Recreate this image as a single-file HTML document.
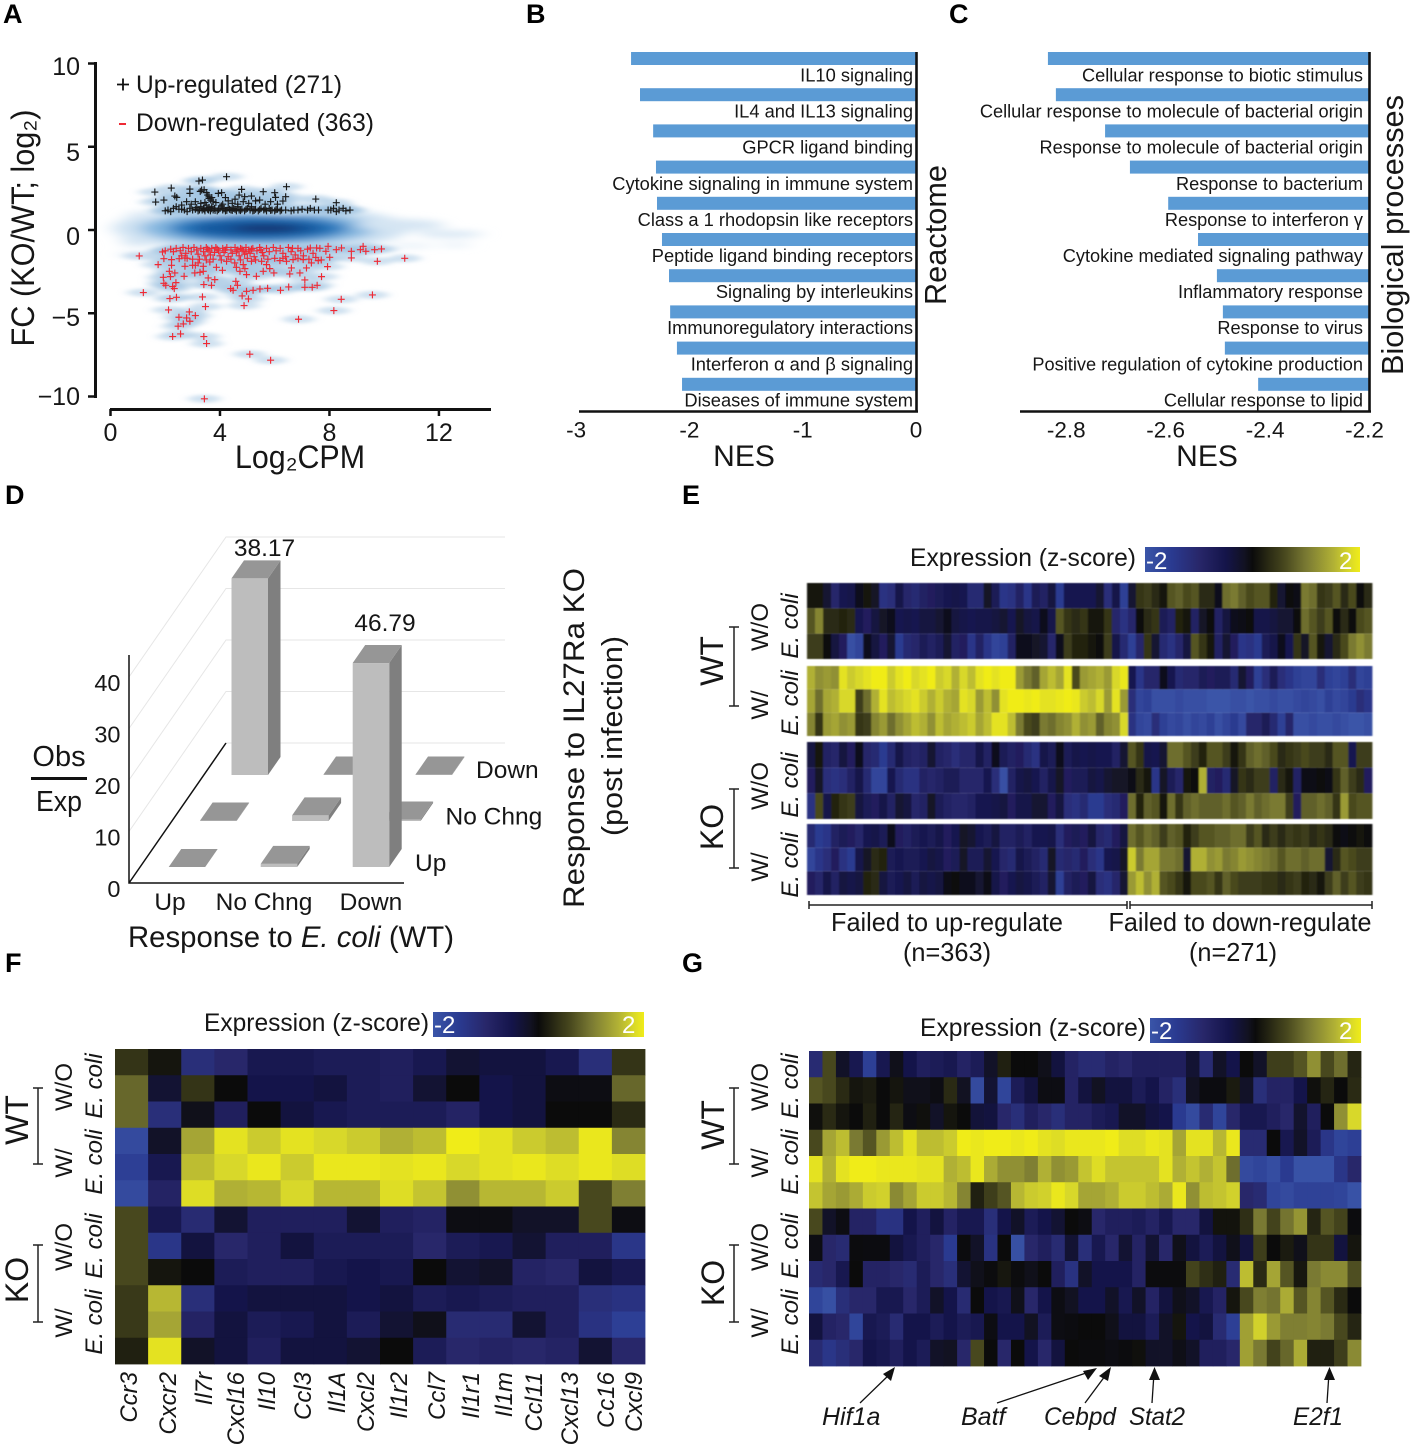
<!DOCTYPE html>
<html lang="en">
<head>
<meta charset="utf-8">
<title>IL27Ra KO expression figure</title>
<style>
html,body{margin:0;padding:0;background:#fff}
svg{display:block}
text{font-family:"Liberation Sans","DejaVu Sans",sans-serif;fill:#161616}
.pl{font-weight:bold;font-size:27px;fill:#000}
.it{font-style:italic}
</style>
</head>
<body>
<svg id="fig" xmlns="http://www.w3.org/2000/svg" width="1411" height="1446" viewBox="0 0 1411 1446">
<defs>
  <filter id="blurCloud" x="-20%" y="-60%" width="140%" height="220%"><feGaussianBlur stdDeviation="9 3.5"/></filter>
  <filter id="blurHalo" x="-20%" y="-20%" width="140%" height="140%"><feGaussianBlur stdDeviation="5 1.6"/></filter>
  <filter id="blurHeat" x="-1%" y="-1%" width="102%" height="102%"><feGaussianBlur stdDeviation="0.7 0.4"/></filter>
  <linearGradient id="zGrad" x1="0" x2="1" y1="0" y2="0"></linearGradient>
</defs>

<!-- panel letters -->
<text class="pl" x="3" y="23">A</text>
<text class="pl" x="526" y="23">B</text>
<text class="pl" x="949" y="23">C</text>
<text class="pl" x="5" y="504">D</text>
<text class="pl" x="682" y="504">E</text>
<text class="pl" x="5" y="972">F</text>
<text class="pl" x="682" y="972">G</text>

<!-- panel A -->
<g id="panelA"></g>
<text x="80" y="75" text-anchor="end" font-size="25">10</text>
<text x="80" y="161" text-anchor="end" font-size="25">5</text>
<text x="80" y="245" text-anchor="end" font-size="25">0</text>
<text x="80" y="326" text-anchor="end" font-size="25">−5</text>
<text x="80" y="405" text-anchor="end" font-size="25">−10</text>
<text transform="translate(34,228) rotate(-90)" text-anchor="middle" font-size="32" textLength="237" lengthAdjust="spacingAndGlyphs">FC (KO/WT; log₂)</text>
<text x="300" y="468" text-anchor="middle" font-size="32" textLength="130" lengthAdjust="spacingAndGlyphs">Log₂CPM</text>
<path d="M117 84.500h12M123 78.500v12" stroke="#111" stroke-width="1.800" fill="none"/>
<text x="136" y="93" font-size="25" textLength="206" lengthAdjust="spacingAndGlyphs">Up-regulated (271)</text>
<path d="M119 124h7" stroke="#ee2a35" stroke-width="2" fill="none"/>
<text x="136" y="131" font-size="25" textLength="238" lengthAdjust="spacingAndGlyphs">Down-regulated (363)</text>

<!-- panel B and C -->
<g id="panelB"></g>
<g id="panelC"></g>
<text x="744" y="466" text-anchor="middle" font-size="30">NES</text>
<text x="1207" y="466" text-anchor="middle" font-size="30">NES</text>
<text transform="translate(946,235) rotate(-90)" text-anchor="middle" font-size="31" textLength="140" lengthAdjust="spacingAndGlyphs">Reactome</text>
<text transform="translate(1403,235) rotate(-90)" text-anchor="middle" font-size="31" textLength="280" lengthAdjust="spacingAndGlyphs">Biological processes</text>

<!-- panel D -->
<g id="panelD"></g>
<text x="264.500" y="556" text-anchor="middle" font-size="24.500">38.17</text>
<text x="385" y="631" text-anchor="middle" font-size="24.500">46.79</text>
<text x="59" y="766" text-anchor="middle" font-size="29">Obs</text>
<rect x="31" y="777" width="56" height="3" fill="#111"/>
<text x="59" y="811" text-anchor="middle" font-size="29" textLength="46" lengthAdjust="spacingAndGlyphs">Exp</text>
<text x="128" y="947" font-size="30" textLength="326" lengthAdjust="spacingAndGlyphs">Response to <tspan class="it">E. coli</tspan> (WT)</text>
<text transform="translate(584,738) rotate(-90)" text-anchor="middle" font-size="30" textLength="340" lengthAdjust="spacingAndGlyphs">Response to IL27Ra  KO</text>
<text transform="translate(622,736) rotate(-90)" text-anchor="middle" font-size="29" textLength="200" lengthAdjust="spacingAndGlyphs">(post infection)</text>

<!-- panel E -->
<g id="panelE"></g>
<text x="910" y="566" font-size="25" textLength="226" lengthAdjust="spacingAndGlyphs">Expression (z-score)</text>
<rect x="1145" y="547" width="215" height="25" fill="url(#zGrad)"/>
<text x="1146" y="569" font-size="24" style="fill:#fff">-2</text>
<text x="1339" y="569" font-size="24" style="fill:#fff">2</text>
<text transform="translate(723,661) rotate(-90)" text-anchor="middle" font-size="32">WT</text>
<path d="M729 627h10M734 627v79M729 706h10" stroke="#222" stroke-width="1.500" fill="none"/>
<text transform="translate(723,827) rotate(-90)" text-anchor="middle" font-size="32">KO</text>
<path d="M729 789h10M734 789v79M729 868h10" stroke="#222" stroke-width="1.500" fill="none"/>
<text transform="translate(768,627) rotate(-90)" text-anchor="middle" font-size="24">W/O</text>
<text class="it" transform="translate(798,626) rotate(-90)" text-anchor="middle" font-size="24">E. coli</text>
<text transform="translate(768,705) rotate(-90)" text-anchor="middle" font-size="24">W/</text>
<text class="it" transform="translate(798,703) rotate(-90)" text-anchor="middle" font-size="24">E. coli</text>
<text transform="translate(768,786) rotate(-90)" text-anchor="middle" font-size="24">W/O</text>
<text class="it" transform="translate(798,785) rotate(-90)" text-anchor="middle" font-size="24">E. coli</text>
<text transform="translate(768,867) rotate(-90)" text-anchor="middle" font-size="24">W/</text>
<text class="it" transform="translate(798,865) rotate(-90)" text-anchor="middle" font-size="24">E. coli</text>
<path d="M809 901v8M809 905H1127M1127 901v8M1130 901v8M1130 905H1372M1372 901v8" stroke="#222" stroke-width="1.500" fill="none"/>
<text x="947" y="931" text-anchor="middle" font-size="26" textLength="232" lengthAdjust="spacingAndGlyphs">Failed to up-regulate</text>
<text x="947" y="961" text-anchor="middle" font-size="26" textLength="88" lengthAdjust="spacingAndGlyphs">(n=363)</text>
<text x="1240" y="931" text-anchor="middle" font-size="26" textLength="263" lengthAdjust="spacingAndGlyphs">Failed to down-regulate</text>
<text x="1233" y="961" text-anchor="middle" font-size="26" textLength="88" lengthAdjust="spacingAndGlyphs">(n=271)</text>

<!-- panel F -->
<g id="panelF"></g>
<text x="204" y="1031" font-size="25" textLength="225" lengthAdjust="spacingAndGlyphs">Expression (z-score)</text>
<rect x="433" y="1012" width="211" height="25" fill="url(#zGrad)"/>
<text x="434" y="1033" font-size="24" style="fill:#fff">-2</text>
<text x="622" y="1033" font-size="24" style="fill:#fff">2</text>
<text transform="translate(28,1120) rotate(-90)" text-anchor="middle" font-size="32">WT</text>
<path d="M33 1088h10M38 1088v76M33 1164h10" stroke="#222" stroke-width="1.500" fill="none"/>
<text transform="translate(28,1280) rotate(-90)" text-anchor="middle" font-size="32">KO</text>
<path d="M33 1245h10M38 1245v77M33 1322h10" stroke="#222" stroke-width="1.500" fill="none"/>
<text transform="translate(72,1087) rotate(-90)" text-anchor="middle" font-size="24">W/O</text>
<text class="it" transform="translate(102,1086) rotate(-90)" text-anchor="middle" font-size="24">E. coli</text>
<text transform="translate(72,1163) rotate(-90)" text-anchor="middle" font-size="24">W/</text>
<text class="it" transform="translate(102,1162) rotate(-90)" text-anchor="middle" font-size="24">E. coli</text>
<text transform="translate(72,1247) rotate(-90)" text-anchor="middle" font-size="24">W/O</text>
<text class="it" transform="translate(102,1246) rotate(-90)" text-anchor="middle" font-size="24">E. coli</text>
<text transform="translate(72,1323) rotate(-90)" text-anchor="middle" font-size="24">W/</text>
<text class="it" transform="translate(102,1322) rotate(-90)" text-anchor="middle" font-size="24">E. coli</text>
<g class="it" font-size="24" text-anchor="end">
<text transform="translate(137,1372) rotate(-90)">Ccr3</text>
<text transform="translate(176,1372) rotate(-90)">Cxcr2</text>
<text transform="translate(212,1372) rotate(-90)">Il7r</text>
<text transform="translate(244,1372) rotate(-90)">Cxcl16</text>
<text transform="translate(275,1372) rotate(-90)">Il10</text>
<text transform="translate(311,1372) rotate(-90)">Ccl3</text>
<text transform="translate(345,1372) rotate(-90)">Il1A</text>
<text transform="translate(374,1372) rotate(-90)">Cxcl2</text>
<text transform="translate(407,1372) rotate(-90)">Il1r2</text>
<text transform="translate(445,1372) rotate(-90)">Ccl7</text>
<text transform="translate(479,1372) rotate(-90)">Il1r1</text>
<text transform="translate(512,1372) rotate(-90)">Il1m</text>
<text transform="translate(542,1372) rotate(-90)">Ccl11</text>
<text transform="translate(578,1372) rotate(-90)">Cxcl13</text>
<text transform="translate(614,1372) rotate(-90)">Cc16</text>
<text transform="translate(642,1372) rotate(-90)">Cxcl9</text>
</g>

<!-- panel G -->
<g id="panelG"></g>
<text x="920" y="1036" font-size="25" textLength="226" lengthAdjust="spacingAndGlyphs">Expression (z-score)</text>
<rect x="1150" y="1018" width="211" height="25" fill="url(#zGrad)"/>
<text x="1151" y="1039" font-size="24" style="fill:#fff">-2</text>
<text x="1339" y="1039" font-size="24" style="fill:#fff">2</text>
<text transform="translate(724,1125) rotate(-90)" text-anchor="middle" font-size="32">WT</text>
<path d="M729 1088h10M734 1088v76M729 1164h10" stroke="#222" stroke-width="1.500" fill="none"/>
<text transform="translate(724,1283) rotate(-90)" text-anchor="middle" font-size="32">KO</text>
<path d="M729 1245h10M734 1245v77M729 1322h10" stroke="#222" stroke-width="1.500" fill="none"/>
<text transform="translate(768,1087) rotate(-90)" text-anchor="middle" font-size="24">W/O</text>
<text class="it" transform="translate(798,1086) rotate(-90)" text-anchor="middle" font-size="24">E. coli</text>
<text transform="translate(768,1163) rotate(-90)" text-anchor="middle" font-size="24">W/</text>
<text class="it" transform="translate(798,1162) rotate(-90)" text-anchor="middle" font-size="24">E. coli</text>
<text transform="translate(768,1247) rotate(-90)" text-anchor="middle" font-size="24">W/O</text>
<text class="it" transform="translate(798,1246) rotate(-90)" text-anchor="middle" font-size="24">E. coli</text>
<text transform="translate(768,1323) rotate(-90)" text-anchor="middle" font-size="24">W/</text>
<text class="it" transform="translate(798,1322) rotate(-90)" text-anchor="middle" font-size="24">E. coli</text>
<g stroke="#111" stroke-width="1.300" fill="none">
<path d="M860 1403L892 1372"/>
<path d="M997 1403L1092 1371"/>
<path d="M1085 1403L1108 1372"/>
<path d="M1152 1403L1154 1373"/>
<path d="M1327 1403L1329 1373"/>
</g>
<g fill="#111">
<path d="M895 1367L891 1381L883 1374Z"/>
<path d="M1097 1368L1088 1380L1083 1371Z"/>
<path d="M1111 1367L1108 1381L1099 1376Z"/>
<path d="M1154.500 1367L1160 1380L1149 1380Z"/>
<path d="M1329.500 1367L1335 1380L1324 1380Z"/>
</g>
<g class="it" font-size="25">
<text x="822" y="1425">Hif1a</text>
<text x="961" y="1425">Batf</text>
<text x="1044" y="1425" textLength="72" lengthAdjust="spacingAndGlyphs">Cebpd</text>
<text x="1129" y="1425" textLength="56" lengthAdjust="spacingAndGlyphs">Stat2</text>
<text x="1293" y="1425" textLength="50" lengthAdjust="spacingAndGlyphs">E2f1</text>
</g>
</svg>

<script>
/* ---------- colour scale ---------- */
const zStops = [-2,-1.5,-1,-0.5,-0.15,0,0.3,0.6,1,1.5,1.8,2];
const zColors = ['#3a55a8','#2a3a90','#28276a','#14144a','#121222','#0b0b0b','#2a2a14','#48481e','#7a7a33','#b0b035','#d8d82a','#f0ec18'];

/* ---------- panel A data (log2CPM, log2FC) ---------- */
const maXTicks = [0,4,8,12];
const maYTicks = [10,5,0,-5,-10];
const upPoints = [[4.24,3.2],[3.23,2.94],[3.36,3],[2.22,2.52],[1.62,2.28],[1.65,1.68],[1.95,1.8],[2.9,2.46],[2.9,2.2],[3.33,2.4],[3.42,2.42],[3.28,2.32],[2.35,2.04],[2.42,1.96],[2.78,1.7],[3.6,2.0],[3.66,1.8],[3.94,2.2],[4.06,2.24],[4.79,2.44],[4.7,2.1],[4.9,2.0],[5.15,2.04],[5.58,2.3],[6,2.24],[6.03,1.96],[6.43,2.6],[6.4,2],[6.3,1.74],[7.5,1.86],[8.25,1.64],[5.45,1.8],[3.5,2.25],[3.55,2.1],[3.6,1.9],[3.7,1.95],[3.75,1.7],[3.3,1.6],[3.1,1.7],[2.95,1.55],[2.6,1.5],[4.1,1.55],[4.3,1.75],[4.45,1.6],[4.55,1.85],[4.65,1.55],[4.85,1.7],[5.05,1.6],[5.3,1.75],[5.65,1.55],[5.85,1.7],[6.1,1.55],[4.2,1.95],[3.85,1.65],[3.45,1.65],
[2.0,1.15],[2.1,1.2],[2.2,1.1],[2.3,1.3],[2.4,1.4],[2.5,1.25],[2.6,1.25],[2.7,1.2],[2.8,1.1],[2.9,1.3],[3.0,1.2],[3.1,1.25],[3.15,1.35],[3.2,1.15],[3.3,1.4],[3.35,1.2],[3.4,1.3],[3.45,1.15],[3.5,1.5],[3.55,1.25],[3.6,1.35],[3.65,1.15],[3.7,1.4],[3.75,1.2],[3.8,1.3],[3.9,1.15],[4.0,1.3],[4.05,1.45],[4.1,1.2],[4.2,1.15],[4.3,1.35],[4.35,1.25],[4.4,1.2],[4.5,1.3],[4.6,1.15],[4.65,1.4],[4.7,1.2],[4.8,1.25],[4.9,1.15],[5.0,1.3],[5.1,1.2],[5.15,1.4],[5.2,1.15],[5.3,1.25],[5.4,1.15],[5.5,1.3],[5.6,1.2],[5.7,1.15],[5.8,1.3],[5.9,1.2],[6.0,1.15],[6.1,1.25],[6.2,1.15],[6.4,1.2],[6.6,1.15],[6.7,1.2],[6.85,1.2],[7.0,1.25],[7.2,1.2],[7.3,1.3],[7.45,1.2],[7.6,1.2],[7.95,1.2],[8.05,1.2],[8.15,1.3],[8.25,1.1],[8.35,1.2],[8.5,1.3],[8.6,1.15],[8.75,1.2],
[3.25,1.2],[3.42,1.25],[3.58,1.2],[3.68,1.28],[3.82,1.18],[3.95,1.22],[4.15,1.28],[4.25,1.18],[4.45,1.18],[4.55,1.24],[4.75,1.16],[4.95,1.24],[5.25,1.18],[5.45,1.22],[5.65,1.26],[5.85,1.18],[6.05,1.22],[6.25,1.2]];
const downPoints = [[1.05,-1.56],[1.2,-3.76],[1.74,-2.08],[1.9,-1.32],[1.95,-1.72],[2.15,-2.48],[1.93,-2.84],[2.19,-2.8],[2.35,-2.58],[1.95,-3.2],[2.02,-3.32],[2.27,-3.4],[2.33,-3.52],[2.39,-3.16],[2.17,-4.12],[2.41,-4.04],[2.12,-4.8],[2.88,-4.92],[2.5,-5.24],[2.78,-5.28],[3.1,-5.14],[2.9,-5.48],[2.66,-5.64],[2.47,-5.78],[2.56,-6.24],[2.27,-6.4],[3.41,-6.4],[3.51,-6.82],[3.36,-4.02],[3.47,-4.6],[3.41,-3.28],[3.69,-3.32],[3.57,-2.88],[3.81,-2.98],[4.39,-3.52],[4.48,-3.62],[4.58,-3.08],[4.64,-3.32],[4.97,-3.68],[4.81,-3.96],[5.04,-4.14],[4.88,-4.54],[5.21,-3.62],[5.46,-3.54],[5.74,-3.5],[6.21,-3.62],[6.51,-3.42],[7.1,-3.44],[7.37,-3.44],[7.55,-3.32],[7.1,-3],[7.71,-2.8],[8.43,-4.16],[8.16,-4.84],[6.87,-5.36],[9.57,-3.9],[9.75,-1.88],[10.75,-1.7],[5.09,-7.46],[5.85,-7.82],[3.43,-10.14],[2.69,-2.78],[6.55,-2.64],[6.92,-2.58],[6.61,-2.28],[7.16,-2.28],[7.93,-2.2],[8.01,-1.64],[8.8,-1.68],[8.8,-1.28],[9.65,-1.18],[9.9,-1.14],[9.23,-0.98],[9.13,-1.18],[9.33,-1.28],[8.44,-1.08],[8.25,-1.18],[7.95,-0.98],[7.87,-1.28],[7.53,-1.08],[7.3,-1.08],[7.59,-1.84],[7.34,-1.98],[5.58,-2.48],[5.82,-2.32],[5.97,-2.58],[5.33,-2.78],[4.97,-2.68],[4.73,-2.48],[4.91,-2.32],[4.09,-2.42],[3.87,-2.24],[3.39,-2.48],[3.27,-2.54],[3.08,-2.58],[3.39,-2.18],[3.1,-2.12],[2.72,-2.18],[2.23,-2.12],[2.23,-1.78],[2.51,-1.72],[2.72,-1.68],[3,-2.12],[3.2,-1.98],[3.63,-1.92],[4.24,-1.88],[4.54,-1.98],[4.6,-2.24],[4.85,-2.08],[5.15,-1.88],[5.52,-1.88],[5.7,-2.08],[6.19,-1.84],[6.43,-1.88],[6.67,-1.78],[7.04,-1.78],
[2.0,-1.25],[2.2,-1.15],[2.3,-1.3],[2.4,-1.1],[2.55,-1.25],[2.65,-1.05],[2.75,-1.4],[2.85,-1.1],[2.95,-1.3],[3.05,-1.05],[3.15,-1.2],[3.2,-1.45],[3.3,-1.1],[3.4,-1.3],[3.45,-1.55],[3.5,-1.05],[3.6,-1.25],[3.65,-1.5],[3.7,-1.1],[3.8,-1.35],[3.85,-1.05],[3.95,-1.25],[4.0,-1.55],[4.1,-1.1],[4.15,-1.35],[4.25,-1.05],[4.3,-1.6],[4.4,-1.2],[4.45,-1.4],[4.55,-1.05],[4.6,-1.3],[4.7,-1.55],[4.75,-1.1],[4.85,-1.25],[4.9,-1.45],[4.95,-1.05],[5.05,-1.2],[5.1,-1.4],[5.2,-1.1],[5.25,-1.6],[5.35,-1.25],[5.45,-1.05],[5.55,-1.35],[5.6,-1.55],[5.7,-1.1],[5.8,-1.3],[5.95,-1.05],[6.05,-1.25],[6.2,-1.1],[6.3,-1.4],[6.4,-1.6],[6.5,-1.05],[6.6,-1.3],[6.65,-1.1],[6.75,-1.5],[6.85,-1.1],[6.95,-1.25],[7.05,-1.55],[7.2,-1.15],[7.4,-1.4],[7.5,-1.65],[7.65,-1.1],[2.6,-1.55],[2.8,-1.7],[3.0,-1.75],[3.25,-1.75],[3.5,-1.8],[3.75,-1.75],[4.05,-1.8],[4.4,-1.75],[4.75,-1.8],[5.0,-1.7],[5.3,-1.8],[5.75,-1.75],[6.0,-1.7],[6.3,-1.7],[6.85,-1.7],[7.25,-1.75],[7.7,-1.8],[3.55,-1.15],[3.9,-1.15],[4.2,-1.2],[4.65,-1.2],[4.8,-1.15],[5.15,-1.15],[5.5,-1.2],[4.95,-1.3]];
const cloudX = [5.5,5.4,5.4,5.4,5.7,10.6,12.4,11,12.6,1.0,0.8,3.5,6.5,1.3];
const cloudY = [0.1,0.1,0.1,0.1,0.1,0.3,-0.25,-0.95,-0.9,-0.7,-1.45,1.5,1.5,0.9];
const cloudRX = [5.4,4.3,3.3,2.5,1.3,1.6,1.2,0.8,0.6,0.6,0.6,1.6,2.0,0.7];
const cloudRY = [1.4,1.05,0.8,0.52,0.22,0.35,0.2,0.1,0.1,0.28,0.1,0.6,0.5,0.25];
const cloudColor = ['#cfe2f2','#86b8e0','#2f7dc0','#12589f','#13306e','#d5e5f3','#d5e5f3','#dbe9f5','#dbe9f5','#d5e5f3','#dbe9f5','#dbe9f5','#e4eff8','#dbe9f5'];

/* ---------- panel B / C data ---------- */
const reactomeTerms = ['IL10 signaling','IL4 and IL13 signaling','GPCR ligand binding','Cytokine signaling in immune system','Class a 1 rhodopsin like receptors','Peptide ligand binding receptors','Signaling by interleukins','Immunoregulatory interactions','Interferon α and β signaling','Diseases of immune system'];
const reactomeNES = [-2.515,-2.436,-2.32,-2.295,-2.286,-2.242,-2.18,-2.17,-2.11,-2.065];
const reactomeTicks = [-3,-2,-1,0];
const bpTerms = ['Cellular response to biotic stimulus','Cellular response to molecule of bacterial origin','Response to molecule of bacterial origin','Response to bacterium','Response to interferon γ','Cytokine mediated signaling pathway','Inflammatory response','Response to virus','Positive regulation of cytokine production','Cellular response to lipid'];
const bpNES = [-2.842,-2.826,-2.727,-2.677,-2.6,-2.54,-2.502,-2.49,-2.486,-2.419];
const bpTicks = [-2.8,-2.6,-2.4,-2.2];

/* ---------- panel D data ---------- */
const dColumns = ['Up','No Chng','Down'];
const dRows = ['Up','No Chng','Down'];
const dYTicks = [0,10,20,30,40];
/* drawn bar heights in axis units, front row to back row */
const dHeightsRowUp = [0,0.6,39.6];
const dHeightsRowNoChng = [0.1,1.1,0.3];
const dHeightsRowDown = [38.17,0.1,0.1];

/* ---------- panel E data (sampled z-scores along the clusters) ---------- */
const eLeft1 = [.1,.1,-.3,-1,-.6,-.5,-.1,.1,-.2,-1.3,-1.2,-.5,-1,-1.1,-.9,-.8,-.7,-.6,-.5,-.6,-1.1,-1.1,-.2,-.7,-1.4,-1.3,-.9,-1.4,-.7,-.9,-.4,-1.5,-.6,-.6,-.6,-.6,-.3,-1.2,-.5,-1.6];
const eRight1 = [-.3,.4,.5,.3,.1,.7,.8,.6,.7,.3,.3,-.1,.9,1,.8,.6,.7,.7,.2,-.3,0,-.05,1,.9,.4,.5,.7,.3,.6,0,.3];
const eLeft2 = [.7,1.1,.3,.3,.2,.3,-.6,-.8,-.4,-.2,-.1,-.6,-.5,-.6,-.4,-.4,-.3,-.1,-.4,-.5,-.6,-.5,-.5,-.4,-.3,-.6,-.2,-.4,-.5,-.1,-.5,.7,.4,.3,.4,.1,.1,.4,-1,-1.3];
const eRight2 = [-1,0,.3,.4,-.7,-.9,.2,.1,-.9,-.2,0,-.9,-.4,-.1,-.05,0,-.5,-.5,-.4,-.3,-.3,0,.9,.7,.5,.7,0,.3,0,.6,.7];
const eLeft3 = [.5,.5,0,-.4,-.8,-1.9,-1.7,-.1,-.4,-.8,-.3,-1.5,-1.1,-1,-.7,-.9,-.7,-.3,-.9,-.8,-1.4,-.9,-1.4,-1.7,-1.6,-.9,-.1,-.1,-.2,-.3,-1,-.1,.5,.2,.2,.1,0,.5,-.5,-1.1];
const eRight3 = [-1.6,-1,.4,-.3,-1.1,-1.3,-1,-.4,.7,.4,.1,-.9,-.3,-.8,-1.4,-1.3,-1.5,-.7,-.5,-.1,-.6,.4,-.2,.7,.1,-.3,.3,.6,1,1.2,1];
const eLeft4 = [1.5,1.2,1.3,1.2,1.9,1.7,1.8,1.9,2,2,1.7,1.9,2,1.8,1.9,2,1.7,1.8,1.5,1.8,1.6,1.9,2,1.9,2,2,1.3,1,.8,1.4,1.6,1.4,1.9,.6,1.3,1.4,1.5,1.3,1.8,1.95];
const eRight4 = [-.6,-1.4,-1,-1,-.1,-.6,-1.1,-1,-1,-.7,-.8,-.7,-.7,-1.1,-.3,-.8,-1.6,-1.2,-.7,-1.2,-1.4,-1.6,-1.7,-1.7,-1.2,-1.6,-1.7,-1.6,-1.2,-1.7,-1.6];
const eLeft5 = [1.4,.9,1.4,1.5,1.8,1.8,.5,.9,1.5,1.9,1.6,1.7,1.8,1.9,1.7,1.5,1.7,1.5,1.4,1.9,1.8,1.3,1.6,1.2,1.9,2,2,1.95,2,1.9,1.9,1.95,2,1.95,1.7,1.6,1.8,1.3,1.9,1.3];
const eRight5 = [-1.2,-1.7,-1.6,-1.9,-1.9,-1.9,-1.8,-1.9,-1.9,-1.9,-2,-2,-2,-1.9,-1.9,-2,-1.9,-1.9,-1.8,-1.9,-1.9,-1.8,-1.7,-1.8,-1.9,-1.6,-1.8,-1.7,-1.5,-1.2,-1.4];
const eLeft6 = [1.1,.4,1.3,1.4,1.2,1.3,.4,.5,1.1,1.3,.9,1.2,1.4,1.6,1.5,1.2,1.6,1.4,1.5,1.6,1.7,1.4,1.6,1.9,1.9,1.6,1,.6,.5,1,.9,1.1,1.2,1.5,1.2,1.3,.8,1.1,1.2,1.8];
const eRight6 = [-1.3,-1.7,-1.8,-1.2,-1.6,-1.8,-1.7,-1.9,-1.7,-1.8,-1.6,-1.9,-1.7,-1.5,-1.8,-1,-1,-.7,-1.1,-1.6,-1,-1.9,-1.9,-1.8,-1.9,-1.9,-1.8,-1.9,-2,-2,-1.9];
const eLeft7 = [-.4,.1,-.9,-1,-.4,-.8,-.1,-1,-1.1,-1.5,-1.1,-.5,-.9,-1,-.9,-.3,-.9,-1,-1.2,-1,-1,-.5,-.9,-.1,-.7,-.9,-.8,-1.1,-1.3,-.5,-.7,-.1,-.7,-.5,-.6,-.5,-.6,-.6,-.9,-.3];
const eRight7 = [.7,.4,-.5,-.6,-.3,.9,.9,.7,.5,.2,.7,.7,.5,.1,.4,.8,.9,.8,.6,.3,.4,.5,.6,.5,.5,.3,.7,.7,-.6,.5,.5];
const eLeft8 = [-.8,-.2,-1.2,-1.3,-1.2,-.9,-.5,-1.1,-1.7,-1.7,-.6,-1.1,-1.3,-1.3,-.9,-1,-.9,-.7,-.7,-1,-1,-1,-.6,-1.2,-1.9,-.9,-.5,-.4,-.6,-.9,-.5,-.2,-.8,-.7,-.7,-.4,-.5,-.3,-.2,-.2];
const eRight8 = [-.05,.3,.1,-1.4,-.2,-.7,-1,.1,0,1.5,-.9,-.8,-1.1,-.2,.4,.3,.5,.5,-.9,.3,.1,-.9,-.05,-.05,0,-.05,.4,.8,.5,.3,-.8];
const eLeft9 = [-1.3,.6,-.5,.2,.4,.5,-.4,-.7,-.8,-.5,-.9,-.3,-.4,-1,-.9,-.2,-.7,-.9,-1,-1,-.9,-.6,-.6,-.5,-.4,-.8,-.5,-.5,-.3,-.3,-.8,-.4,-1.2,-1.3,-1.1,-1.5,-1.5,-1.2,-1.1,-.8];
const eRight9 = [.9,.2,.8,.7,.1,.9,.4,.8,.9,.8,.8,.8,.9,.7,.8,1,.8,.9,1,1,.5,-.8,.8,.8,.9,.8,.4,1.3,.6,.7,.7];
const eLeft10 = [-1.1,-1.5,-1.4,-.9,-.7,-.8,-1,-.6,-.5,-.7,-.1,-.8,-.9,-.7,-.6,-.7,-.5,-.8,-.6,-.2,-.3,-.6,-.7,-.4,-.9,-.9,-.7,-.9,-.6,-.6,-.5,-1.2,-.8,-.7,-.8,-.4,-1,-1.1,-.8,-.4];
const eRight10 = [.9,.7,.9,.8,.5,.8,.7,.2,.5,.7,.7,.8,.8,.9,.9,.5,.7,.3,.5,.3,.5,.4,.5,.3,.4,.3,0,-.05,0,.1,0];
const eLeft11 = [-1.7,-1.4,-1.2,-.8,-1.3,-1.5,-.5,-.2,.3,.2,-.7,-.6,-.7,-.7,-.6,-.4,-.5,-.8,-.7,-.2,-.7,-.7,-.3,-.6,-1,-1.1,-.5,-.7,-.9,-1.1,-.2,-1.1,-1,-1.1,-.8,-1.2,-1.4,-.6,-.5,-.2];
const eRight11 = [1.7,1,1.4,1.4,1,1,.9,-.3,1.5,1.5,1.2,1.3,1,1.1,1.3,1.2,1.1,1,.9,.7,.9,.9,.8,.9,.9,-.3,.3,.7,.6,.5,.5];
const eLeft12 = [-.8,-1,-.5,-.9,-.4,-.5,-.4,.2,.3,-.4,-.7,-.6,-.4,-.7,-.4,-.5,-.4,-.05,0,-.1,-.1,-.3,-.05,-.5,-.8,-.6,-.4,-.5,-.7,-.9,-.3,-1.6,-.9,-.7,-.8,-.4,-1.2,-1.3,-1,-.3];
const eRight12 = [1.3,1.6,1.2,1.5,.7,.6,.4,.1,.6,.6,.7,.4,.8,.6,.5,.5,.5,.4,.4,.3,.4,.5,.2,.3,.1,.5,.8,.5,.7,.5,.4];

/* ---------- panel F data ---------- */
const fRow1 = [.4,.1,-1.2,-1,-.6,-.6,-.7,-.7,-.8,-.6,-.3,-.4,-.4,-.6,-1.2,.4];
const fRow2 = [.85,-.3,.4,0,-.5,-.5,-.4,-.7,-.8,-.3,0,-.5,-.4,-.05,-.05,.85];
const fRow3 = [.85,-1.2,-.1,-.8,0,-.4,-.6,-.7,-.7,-.7,-.9,-.5,-.4,0,0,.3];
const fRow4 = [-1.8,-.2,1.4,1.9,1.7,1.9,1.8,1.7,1.5,1.6,2,1.9,1.7,1.6,1.95,1.1];
const fRow5 = [-1.6,-.6,1.6,1.8,1.95,1.7,1.95,1.95,1.9,1.95,1.8,1.9,1.95,1.85,1.95,1.85];
const fRow6 = [-1.8,-.9,1.85,1.5,1.55,1.8,1.55,1.55,1.85,1.65,1.2,1.55,1.55,1.7,.6,1.05];
const fRow7 = [.6,-.6,-1.1,-.3,-.8,-.8,-.8,-.3,-.8,-.9,-.05,-.05,-.2,-.2,.6,-.05];
const fRow8 = [.6,-1.4,-.4,-1,-.8,-.4,-.7,-.7,-.7,-1,-.7,-.6,-.3,-.8,-.8,-1.4];
const fRow9 = [.6,.1,0,-.7,-.8,-.8,-.6,-.5,-.6,0,-.3,-.2,-.9,-1,-.4,-.6];
const fRow10 = [.45,1.55,-1.2,-.5,-.4,-.4,-.4,-.5,-.4,-.7,-.6,-.7,-.8,-.8,-1.2,-1.3];
const fRow11 = [.45,1.4,-.9,-.4,-.7,-.6,-.4,-.7,-.3,-.1,-1.1,-1.1,-.3,-.8,-1.3,-1.6];
const fRow12 = [.2,1.9,-.2,-.4,-.8,-.4,-.4,-.3,0,-.7,-1,-.9,-1,-.9,-.3,-1];

/* ---------- panel G data ---------- */
const gRow1 = [-1.1,.6,-.2,-.6,-1.6,-.6,-.1,-.5,-.8,-.7,-.6,-.9,-.7,-.2,.2,0,0,-.1,-.4,-.9,-1.1,-1.1,-.9,-1,-.8,-.8,-.8,-.8,-.3,-1.1,-.2,-.5,0,-.2,.5,.5,.7,1.2,.6,.9,.25];
const gRow2 = [.7,.6,.3,.1,.15,0,.1,-.1,-.1,-.05,.3,-.15,-1.8,-.3,-1.7,-.7,-.4,-.05,-.05,-.9,-.4,-.15,-.4,-.4,-.7,-.5,-.9,-1.2,-.15,-.03,-.03,.15,-.2,-1.2,-.9,-.9,-.5,.05,.25,0,.3];
const gRow3 = [.05,.3,.1,0,.2,0,.25,-.05,.05,-.2,.1,0,-.35,-.4,-1,-1.2,-.8,-1,-1.2,-.9,-.9,-.7,-.6,-.2,-.2,-.4,-.5,-1.5,-1.8,-1.1,-1.7,-1,-.6,-.6,-.8,-1,-.25,-.8,0,1.2,1.8];
const gRow4 = [.6,1.4,1.6,1,.7,1.3,1.6,1.9,1.6,1.6,1.7,2,1.95,2,2,1.95,2,1.9,1.85,1.95,1.95,1.95,2,1.85,1.85,1.95,1.9,1.4,1.9,1.9,1.55,1.95,-1.1,-1.1,0,-.6,-.2,-.7,-1.4,-1.7,-1.6];
const gRow5 = [1.9,1.5,1.9,2,2,1.95,1.95,1.95,1.9,1.9,1.5,1.6,1.95,1.45,1.2,1.2,1.05,1.5,1.2,1.3,1.65,1.85,1.65,1.65,1.65,1.65,1.9,1.5,1.65,1.5,1.65,.9,-1.8,-1.7,-1.85,-1.5,-1.95,-1.95,-1.95,-1.4,-1];
const gRow6 = [1.65,1.4,1.3,1.45,1.7,1.75,1.15,1.4,1.7,1.7,1.55,1.1,.2,.5,.7,1.55,1.7,1.75,1.95,1.8,1.4,1.4,1.5,1.7,1.7,1.6,1.45,1.95,1.2,1.6,1.65,1.75,-1,-1.1,-1.7,-1.8,-1.65,-1.65,-1.65,-1.7,-1.95];
const gRow7 = [.6,-.2,-.05,-.9,-.9,-1.3,-1.3,-.5,-.8,-.4,-.9,-.6,-.6,-1.2,-.5,-.2,-.7,-.5,-.3,0,-.05,-1,-.8,-.8,-.7,-.9,-.6,-1,-1,-.4,.08,.08,.35,1,.55,.95,1.25,.25,.7,.55,-.02];
const gRow8 = [-.05,-1,-1.1,-.02,-.03,-.03,-.4,-.6,-.8,-1,-1.5,-.02,-.2,-1.3,0,-1.9,-1,-.8,-1.1,-.3,-1.2,-.6,-1,-.3,-.9,-.3,-1,-.1,-.4,-.7,-.4,-.1,-.4,.5,0,.15,-.1,.4,.4,-.4,.1];
const gRow9 = [-1.1,-1,-.6,0,-.9,-.9,-1,-1.1,-.7,-1,-1.2,-.3,-.1,-.02,.12,-.02,-.1,0,-.8,-1.3,-.2,-.5,-.5,-.5,-.9,-.02,-.02,-.02,.55,.35,.2,-1.1,1.6,.3,1.4,.7,.12,1,1.15,1.15,.65];
const gRow10 = [-1.7,-1.9,-1.2,-1,-1,-.6,-.6,-1,-.7,-.2,-.5,-1.1,0,-.5,-.6,-.1,-1,-.5,-.05,-.15,-.5,-.5,-.2,-.6,-.2,-.9,-.4,-.1,-.2,-.6,-.9,.1,.6,1.05,.95,1.45,.7,1.1,.7,.3,0];
const gRow11 = [-.4,-.9,-1,-1.7,-.6,-.7,-1.1,-.5,-.5,-.7,-.5,-.7,-.6,-.05,-.5,-.5,-.15,-.7,-.05,-.03,0,0,-.1,-.4,-.4,-.7,-.2,.1,-.5,-.4,-1.1,-1.6,1.35,1.75,1.3,1.05,1.05,1.1,1,.6,.25];
const gRow12 = [-1.1,-1.4,-1.2,-1,-.5,-.6,-.8,-.5,-.7,-.2,-.15,-1,.6,0,-1,0,-.5,-1,-.4,0,-.02,-.02,-.05,-.02,.05,-.2,-.2,-.08,-.2,-.8,-.8,-1,1.35,1,.55,.85,1.45,.2,.2,.5,1.15];

/* ---------- helpers ---------- */
const NS = 'http://www.w3.org/2000/svg';
function mk(tag, parent, attrs) {
  const n = document.createElementNS(NS, tag);
  for (const k in attrs) n.setAttribute(k, attrs[k]);
  parent.appendChild(n);
  return n;
}
function hexRgb(h) { return [1,3,5].map(i => parseInt(h.substr(i,2),16)); }
function zColor(z) {
  const v = Math.max(-2, Math.min(2, z));
  for (let i = 0; i < zStops.length - 1; i++) {
    if (v <= zStops[i+1]) {
      const t = (v - zStops[i]) / (zStops[i+1] - zStops[i]);
      const a = hexRgb(zColors[i]), b = hexRgb(zColors[i+1]);
      return 'rgb(' + a.map((c,j) => Math.round(c + (b[j]-c)*t)).join(',') + ')';
    }
  }
  return zColors[zColors.length-1];
}
const zGrad = document.getElementById('zGrad');
zStops.forEach((z,i) => {
  mk('stop', zGrad, {offset: ((z+2)/4*100)+'%', 'stop-color': zColors[i]});
});

/* ---------- panel A ---------- */
(function () {
  const g = document.getElementById('panelA');
  const xA = v => 110.5 + v * 27.37;
  const yA = v => 230 - v * 16.65;
  const cloud = mk('g', g, {filter:'url(#blurCloud)'});
  
  
  cloudX.forEach((cx,i) => {
    const e = mk('ellipse', cloud, {cx:xA(cx), cy:yA(cloudY[i]), rx:cloudRX[i]*27.37, ry:cloudRY[i]*16.65, fill:cloudColor[i]});
    
    
  });
  const halo = mk('g', g, {filter:'url(#blurHalo)'});
  
  
  upPoints.concat(downPoints).forEach(p => {
    const e = mk('ellipse', halo, {cx:xA(p[0]), cy:yA(p[1]), rx:16, ry:4, fill:'#9fc3e2', opacity:0.5});
    
    
  });
  upPoints.forEach(p => {
    const x = xA(p[0]), y = yA(p[1]);
    const m = mk('path', g, {d:'M'+(x-3.5)+' '+y+'h7M'+x+' '+(y-3.5)+'v7', stroke:'#1a1a1a', 'stroke-width':1.15, fill:'none'});
    
    
  });
  downPoints.forEach(p => {
    const x = xA(p[0]), y = yA(p[1]);
    const m = mk('path', g, {d:'M'+(x-3.5)+' '+y+'h7M'+x+' '+(y-3.5)+'v7', stroke:'#ee2a35', 'stroke-width':1.15, fill:'none'});
    
    
  });
  const yAxis = mk('path', g, {d:'M95.500 '+(yA(10)-1.5)+'V'+(yA(-10)+1.5), stroke:'#111', 'stroke-width':3, fill:'none'});
  
  
  const xAxis = mk('path', g, {d:'M110 409.500H491', stroke:'#111', 'stroke-width':3, fill:'none'});
  
  
  maYTicks.forEach(v => {
    const tk = mk('path', g, {d:'M88 '+yA(v)+'H95', stroke:'#111', 'stroke-width':2.5});
    
    
  });
  maXTicks.forEach(v => {
    const tk = mk('path', g, {d:'M'+xA(v)+' 409V416', stroke:'#111', 'stroke-width':2.5});
    
    
    const t = mk('text', g, {x:xA(v), y:441, 'text-anchor':'middle', 'font-size':25});
    t.textContent = v;
    
    
  });
})();

/* ---------- panels B, C ---------- */
const barRowTop = i => 52 + i * 36.2;
const labelBase = i => 81.5 + i * 36.1;
(function () {
  const g = document.getElementById('panelB');
  const xB = v => 916 + v * 113.3;
  reactomeNES.forEach((v,i) => {
    const r = mk('rect', g, {x:xB(v), y:barRowTop(i), width:xB(0)-xB(v), height:13, fill:'#5b9bd5'});
    
    
    const t = mk('text', g, {x:913, y:labelBase(i), 'text-anchor':'end', 'font-size':18.3});
    t.textContent = reactomeTerms[i];
    
    
  });
  const ax = mk('path', g, {d:'M916.500 52V412.500M579 411.500H918', stroke:'#111', 'stroke-width':2.6, fill:'none'});
  
  
  reactomeTicks.forEach(v => {
    const t = mk('text', g, {x:xB(v), y:437.5, 'text-anchor':'middle', 'font-size':22.5});
    t.textContent = v;
    
    
  });
})();
(function () {
  const g = document.getElementById('panelC');
  const xC = v => 1367 + (v + 2.2) * 497;
  bpNES.forEach((v,i) => {
    const r = mk('rect', g, {x:xC(v), y:barRowTop(i), width:1369-xC(v), height:13, fill:'#5b9bd5'});
    
    
    const t = mk('text', g, {x:1363, y:labelBase(i), 'text-anchor':'end', 'font-size':18.2});
    t.textContent = bpTerms[i];
    
    
  });
  const ax = mk('path', g, {d:'M1369.500 52V412.500M1020 411.500H1371', stroke:'#111', 'stroke-width':2.6, fill:'none'});
  
  
  bpTicks.forEach(v => {
    const t = mk('text', g, {x:xC(v)-2.5, y:437.5, 'text-anchor':'middle', 'font-size':22.5});
    t.textContent = v.toFixed(1);
    
    
  });
})();

/* ---------- panel D ---------- */
(function () {
  const g = document.getElementById('panelD');
  const unit = 5.15;
  const xD = (c,r) => 168.7 + c * 92 + r * 31.4;
  const yD = r => 867 - r * 46;
  const w = 36.5, ddx = 12.5, ddy = -18;
  const yWall = v => 883 - v * 5.15;
  const yBack = v => 743 - v * 5.15;
  dYTicks.forEach((v,i) => {
    if (v > 0) {
      const gl = mk('path', g, {d:'M129 '+yWall(v)+'L226 '+yBack(v)+'H505', stroke:'#e6e6e6', 'stroke-width':1, fill:'none'});
      
      
    } else {
      const gl = mk('path', g, {d:'M226 '+yBack(0)+'H505', stroke:'#e6e6e6', 'stroke-width':1, fill:'none'});
      
      
    }
    const t = mk('text', g, {x:120.5, y:yWall(v)+14, 'text-anchor':'end', 'font-size':23.5});
    t.textContent = v;
    
    
  });
  const ax = mk('path', g, {d:'M129 655V883H404M129 883L226 743', stroke:'#111', 'stroke-width':1.5, fill:'none'});
  
  
  const rows = [dHeightsRowUp, dHeightsRowNoChng, dHeightsRowDown];
  for (let r = 2; r >= 0; r--) {
    rows[r].forEach((v,c) => {
      const x = xD(c,r), base = yD(r), top = base - v * unit;
      const side = mk('polygon', g, {points:[x+w,top, x+w+ddx,top+ddy, x+w+ddx,base+ddy, x+w,base].join(' '), fill:'#7f7f7f'});
      
      
      const roof = mk('polygon', g, {points:[x,top, x+ddx,top+ddy, x+w+ddx,top+ddy, x+w,top].join(' '), fill:'#969696'});
      
      
      const front = mk('rect', g, {x:x, y:top, width:w, height:base-top, fill:'#bdbdbd'});
      
      
    });
  }
  const colCentres = [170, 264, 371];
  dColumns.forEach((c,i) => {
    const t = mk('text', g, {x:colCentres[i], y:910, 'text-anchor':'middle', 'font-size':24.5});
    t.textContent = c;
    
    
  });
  dRows.forEach((c,i) => {
    const t = mk('text', g, {x:415 + i * 30.5, y:871 - i * 46.5, 'font-size':24.5});
    t.textContent = c;
    
    
  });
})();

/* ---------- heatmaps ---------- */
function drawStrip(parent, values, x0, x1, y0, y1, name) {
  const w = (x1 - x0) / values.length;
  values.forEach((z,i) => {
    const r = mk('rect', parent, {x:x0 + i*w, y:y0, width:w + 0.4, height:y1 - y0, fill:zColor(z)});
    
    
  });
}
(function () {
  const g = document.getElementById('panelE');
  const heat = mk('g', g, {filter:'url(#blurHeat)'});
  
  
  const lefts = [eLeft1,eLeft2,eLeft3,eLeft4,eLeft5,eLeft6,eLeft7,eLeft8,eLeft9,eLeft10,eLeft11,eLeft12];
  const rights = [eRight1,eRight2,eRight3,eRight4,eRight5,eRight6,eRight7,eRight8,eRight9,eRight10,eRight11,eRight12];
  const blockTop = [583,666,742,824];
  const blockBottom = [659,736,819,895];
  lefts.forEach((row,i) => {
    const b = Math.floor(i/3), k = i % 3;
    const h = (blockBottom[b] - blockTop[b]) / 3;
    const y0 = blockTop[b] + k*h, y1 = y0 + h;
    drawStrip(heat, row, 807, 1128, y0, y1, 'e-heat-cell-up-cluster');
    drawStrip(heat, rights[i], 1128, 1372, y0, y1, 'e-heat-cell-down-cluster');
  });
})();
(function () {
  const g = document.getElementById('panelF');
  const rows = [fRow1,fRow2,fRow3,fRow4,fRow5,fRow6,fRow7,fRow8,fRow9,fRow10,fRow11,fRow12];
  const h = (1364 - 1049) / rows.length;
  rows.forEach((row,i) => {
    drawStrip(g, row, 115, 645, 1049 + i*h, 1049 + (i+1)*h + 0.4, 'f-heat-cell');
  });
})();
(function () {
  const g = document.getElementById('panelG');
  const rows = [gRow1,gRow2,gRow3,gRow4,gRow5,gRow6,gRow7,gRow8,gRow9,gRow10,gRow11,gRow12];
  const h = (1366 - 1051) / rows.length;
  rows.forEach((row,i) => {
    drawStrip(g, row, 809, 1361, 1051 + i*h, 1051 + (i+1)*h + 0.4, 'g-heat-cell');
  });
})();
</script>
</body>
</html>
